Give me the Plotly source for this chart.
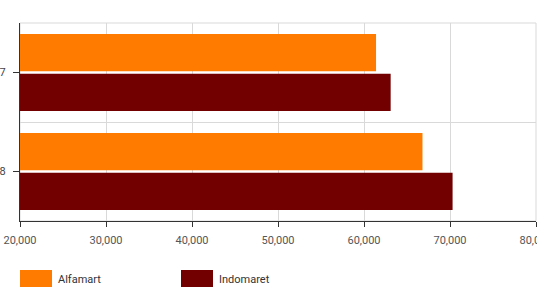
import plotly.graph_objects as go

categories = ["7", "8"]
series_names = ["Alfamart", "Indomaret"]
alfamart = [61400, 66800]
indomaret = [63100, 70300]
colors = ["#FF7B00", "#720000"]
x_ticks = [20000, 30000, 40000, 50000, 60000, 70000, 80000]
x_tick_labels = ["20,000", "30,000", "40,000", "50,000", "60,000", "70,000", "80,000"]

PLOT_L, PLOT_B, PLOT_W, PLOT_H = 20, 221, 516, 198

fig = go.Figure()
for name, vals, col in zip(series_names, [alfamart, indomaret], colors):
    fig.add_trace(go.Bar(y=categories, x=vals, name=name, orientation="h",
                         marker=dict(color=col, line=dict(width=0)),
                         showlegend=False))
# invisible helper trace so the tick-mark axis is drawn
fig.add_trace(go.Scatter(x=[None], y=[None], yaxis="y2", showlegend=False,
                         hoverinfo="skip"))

fig.update_layout(
    width=537, height=300,
    margin=dict(l=20, r=1, t=23, b=79, autoexpand=False),
    paper_bgcolor="white", plot_bgcolor="white",
    barmode="group", bargap=0.2, bargroupgap=0.06,
    font=dict(family="Roboto", size=11, color="#555555"),
    xaxis=dict(range=[20000, 80000], tickvals=x_ticks, ticktext=x_tick_labels,
               showgrid=True, gridcolor="#d9d9d9", gridwidth=1,
               showline=True, linecolor="#333333", linewidth=1,
               ticks="outside", ticklen=5, tickcolor="#333333",
               ticklabelstandoff=4, ticklabeloverflow="allow", automargin=False,
               zeroline=False, fixedrange=True),
    yaxis=dict(type="category", categoryarray=categories, autorange="reversed",
               tickson="boundaries", ticks="", showgrid=True, gridcolor="#d9d9d9",
               showline=True, linecolor="#333333", linewidth=1, automargin=False,
               ticklabelstandoff=11, tickfont=dict(color="#444444")),
    yaxis2=dict(type="linear", overlaying="y", side="left", anchor="x",
                range=[1.5, -0.5], autorange=False,
                tickmode="array", tickvals=[0, 1], ticktext=["", ""],
                showticklabels=True, automargin=False,
                ticks="outside", ticklen=6, tickcolor="#333333", tickwidth=1,
                showgrid=False, zeroline=False, showline=False),
)

# top/right border
fig.add_shape(type="rect", xref="paper", yref="paper", x0=0, x1=1, y0=0, y1=1,
              line=dict(color="#d9d9d9", width=1), layer="below")

# custom legend (positions in pixels converted to paper coords)
def px_x(p):
    return (p - PLOT_L) / PLOT_W

def px_y(p):
    return (PLOT_B - p) / PLOT_H

legend_x = [20, 181]
for name, col, lx in zip(series_names, colors, legend_x):
    fig.add_shape(type="rect", xref="paper", yref="paper",
                  x0=px_x(lx), x1=px_x(lx + 32),
                  y0=px_y(287), y1=px_y(270),
                  fillcolor=col, line=dict(color=col, width=0))
    fig.add_annotation(text=name, xref="paper", yref="paper",
                       x=px_x(lx + 36), y=px_y(279),
                       xanchor="left", yanchor="middle", showarrow=False,
                       font=dict(size=11, color="#333333"))

fig.write_html("out.html")
